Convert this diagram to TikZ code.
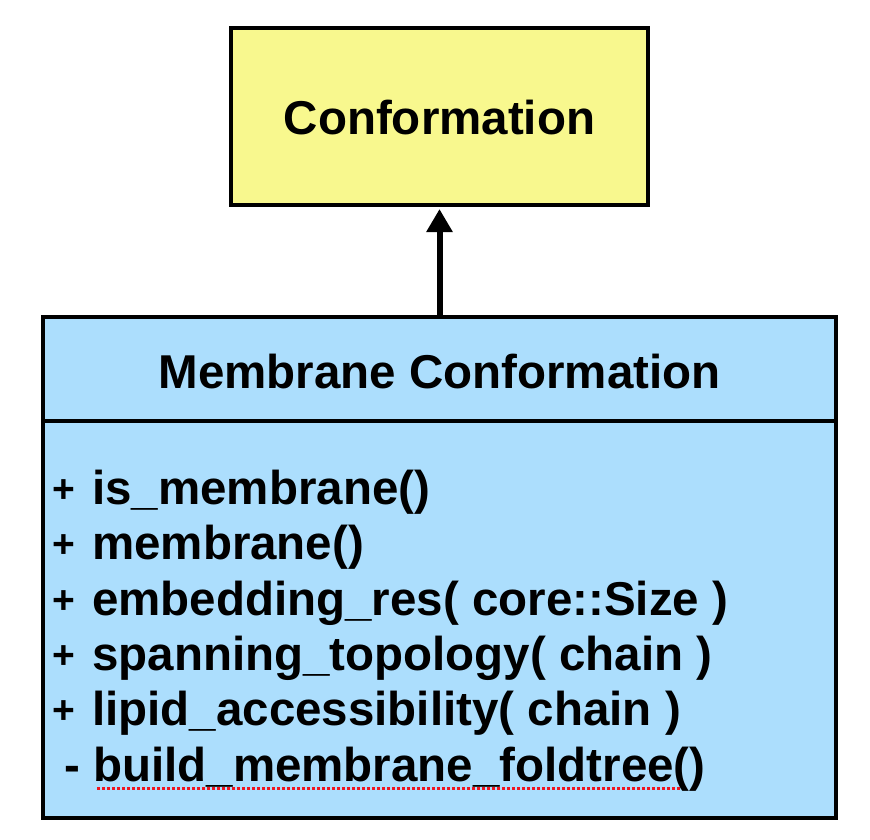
\documentclass[tikz,border=0pt]{standalone}
\usepackage{fontspec}
\setmainfont{Liberation Sans}
\usetikzlibrary{arrows.meta}
\definecolor{boxyellow}{RGB}{248,248,142}
\definecolor{boxblue}{RGB}{172,222,253}
\definecolor{spellred}{RGB}{240,20,30}
\newcommand\umlplus{\makebox[42pt][l]{\hspace{2pt}\raisebox{2pt}{\fontsize{39}{47}\selectfont +}}}
\begin{document}
\begin{tikzpicture}[x=1pt,y=-1pt,
  umltext/.style={font=\fontsize{47.5}{56}\selectfont\bfseries, inner sep=0pt},
  frame/.style={draw=black, line width=4pt, rectangle, inner sep=0pt},
  spellcheck/.style={draw=spellred, line width=3pt, dash pattern=on 3pt off 2pt}]
\useasboundingbox (0,0) rectangle (870,840);
% boxes
\node[frame, fill=boxyellow, minimum width=417pt, minimum height=177pt] (conf) at (439.5,116.5) {};
\node[frame, fill=boxblue, minimum width=793pt, minimum height=104pt] (head) at (439.5,369) {};
\node[frame, fill=boxblue, minimum width=793pt, minimum height=397pt] (body) at (439.5,619.5) {};
% texts
\node[umltext, anchor=base] (conftext) at (439.5,135) {Conformation};
\node[umltext, anchor=base] (headtext) at (439.5,388) {Membrane Conformation};
\node[umltext, anchor=base west] (m1) at (50,504) {\umlplus is\_membrane()};
\node[umltext, anchor=base west] (m2) at (50,559.5) {\umlplus membrane()};
\node[umltext, anchor=base west] (m3) at (50,615) {\umlplus embedding\_res( core::Size )};
\node[umltext, anchor=base west] (m4) at (50,670) {\umlplus spanning\_topology( chain )};
\node[umltext, anchor=base west] (m5) at (50,725.5) {\umlplus lipid\_accessibility( chain )};
\node[umltext, anchor=base west] (m6) at (50,781) {\hspace*{14pt}- build\_membrane\_foldtree()};
% spell-check underline
\coordinate (ulA) at (97,788);
\coordinate (ulB) at (681,788);
\draw[spellcheck] (ulA) -- (ulB);
% inheritance arrow
\draw[line width=6pt, -{Triangle[length=23pt, width=25pt]}, shorten >=2pt] (head.north) -- (conf.south);
\end{tikzpicture}
\end{document}
